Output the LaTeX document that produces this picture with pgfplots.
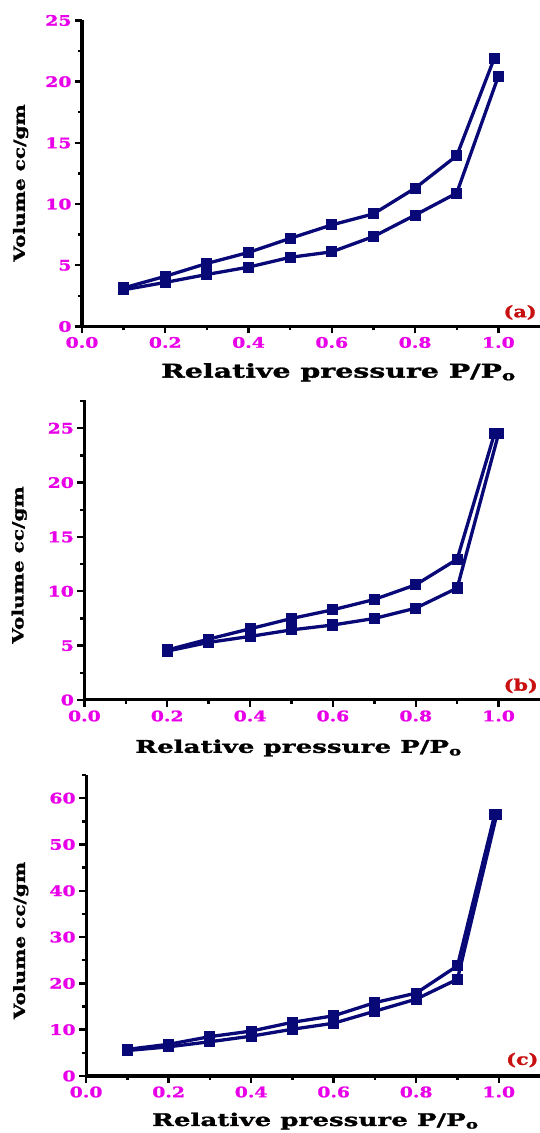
\documentclass[border=0pt]{standalone}
\usepackage{pgfplots}
\pgfplotsset{compat=1.18}
\usepackage{fontspec}
\setmainfont{DejaVu Serif}
\newfontfamily\figfont{DejaVu Serif Bold}[FakeStretch=1.3,FakeBold=1.5]
\newfontfamily\labfont{DejaVu Serif Bold}[FakeStretch=1.5,FakeBold=1.5]
\definecolor{isoblue}{RGB}{8,8,118}
\definecolor{tickmag}{RGB}{232,0,232}
\definecolor{tagred}{RGB}{200,16,16}

% adsorption (ads) and desorption (des) branches of the three samples
\pgfplotstableread{
x y
0.1 3.0
0.2 3.6
0.3 4.25
0.4 4.85
0.5 5.65
0.6 6.1
0.7 7.35
0.8 9.1
0.9 10.9
1.0 20.45
}\adsA
\pgfplotstableread{
x y
0.99 21.9
0.9 13.95
0.8 11.3
0.7 9.2
0.6 8.3
0.5 7.2
0.4 6.05
0.3 5.15
0.2 4.1
0.1 3.15
}\desA
\pgfplotstableread{
x y
0.2 4.5
0.3 5.3
0.4 5.85
0.5 6.45
0.6 6.9
0.7 7.5
0.8 8.45
0.9 10.3
1.0 24.5
}\adsB
\pgfplotstableread{
x y
0.99 24.5
0.9 12.95
0.8 10.6
0.7 9.25
0.6 8.3
0.5 7.5
0.4 6.55
0.3 5.6
0.2 4.6
}\desB
\pgfplotstableread{
x y
0.1 5.5
0.2 6.3
0.3 7.4
0.4 8.6
0.5 10.1
0.6 11.4
0.7 14.0
0.8 16.6
0.9 20.9
0.995 56.4
}\adsC
\pgfplotstableread{
x y
0.99 56.4
0.9 23.8
0.8 17.9
0.7 15.85
0.6 13.0
0.5 11.6
0.4 9.7
0.3 8.5
0.2 6.85
0.1 5.75
}\desC

\pgfplotsset{
  iso/.style={
    scale only axis,
    anchor=origin,
    axis lines=left,
    axis line style={line width=3bp,-},
    every tick/.style={black,line width=2.4bp},
    tick align=outside,
    major tick length=7bp,
    minor tick length=4bp,
    xmin=0, xmax=1.1,
    ymin=0,
    xtick={0,0.2,0.4,0.6,0.8,1.0},
    minor x tick num=1,
    minor y tick num=1,
    xticklabel style={/pgf/number format/.cd,fixed,fixed zerofill,precision=1},
    /pgf/number format/assume math mode=true,
    tick label style={font=\figfont\fontsize{14.5}{14.5}\selectfont,color=tickmag},
    xlabel={Relative pressure P/P\textsubscript{o}},
    ylabel={Volume cc/gm},
    xlabel style={anchor=center},
    ylabel style={font=\figfont\fontsize{15.5}{15.5}\selectfont,anchor=center,rotate=0},
    clip=false,
  },
  branch/.style={isoblue,line width=3.3bp,mark=square*,mark size=3.9bp,
    mark options={isoblue,solid}},
}

\begin{document}
\begin{tikzpicture}
\path[use as bounding box] (0bp,0bp) rectangle (540bp,1133bp);

% (a)
\begin{axis}[iso, at={(82bp,806.5bp)}, width=458bp, height=306bp,
  ymax=25, ytick distance=5,
  xlabel style={font=\labfont\fontsize{19}{19}\selectfont,
    at={(axis description cs:0.56,-0.15)}},
  ylabel style={at={(axis description cs:-0.134,0.469)}}]
\addplot[branch] table {\adsA};
\addplot[branch] table {\desA};
\node[anchor=west,font=\figfont\fontsize{16}{16}\selectfont,text=tagred,inner sep=0]
  at (axis description cs:0.92,0.046) {(a)};
\end{axis}

% (b)
\begin{axis}[iso, at={(84.4bp,433bp)}, width=455.6bp, height=300bp,
  ymax=27.6, ytick distance=5,
  xlabel style={font=\labfont\fontsize{17.5}{17.5}\selectfont,
    at={(axis description cs:0.47,-0.16)}},
  ylabel style={at={(axis description cs:-0.143,0.45)}}]
\addplot[branch] table {\adsB};
\addplot[branch] table {\desB};
\node[anchor=west,font=\figfont\fontsize{16}{16}\selectfont,text=tagred,inner sep=0]
  at (axis description cs:0.92,0.047) {(b)};
\end{axis}

% (c)
\begin{axis}[iso, at={(86.1bp,57bp)}, width=453.9bp, height=301bp,
  ymax=65, ytick distance=10,
  xlabel style={font=\labfont\fontsize{17.5}{17.5}\selectfont,
    at={(axis description cs:0.505,-0.15)}},
  ylabel style={at={(axis description cs:-0.144,0.45)}}]
\addplot[branch] table {\adsC};
\addplot[branch] table {\desC};
\node[anchor=west,font=\figfont\fontsize{16}{16}\selectfont,text=tagred,inner sep=0]
  at (axis description cs:0.925,0.053) {(c)};
\end{axis}
\end{tikzpicture}
\end{document}
